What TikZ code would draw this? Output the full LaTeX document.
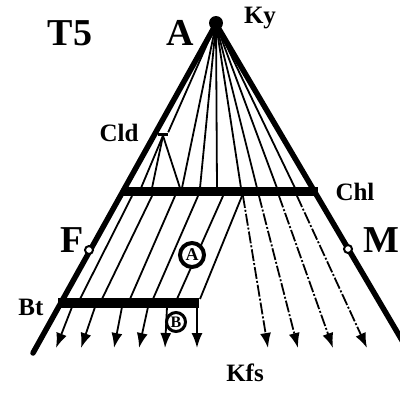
\documentclass[tikz,border=0pt]{standalone}
\usepackage{fontspec}
\setmainfont{Liberation Serif}
\usetikzlibrary{arrows.meta}
\begin{document}
\begin{tikzpicture}[x=1pt,y=-1pt,
 big/.style={font=\fontsize{38}{38}\selectfont\bfseries, inner sep=0},
 small/.style={font=\fontsize{25}{25}\selectfont\bfseries, inner sep=0},
 edgeline/.style={line width=5.5pt, line cap=round},
 bar/.style={line width=9pt},
 ray/.style={line width=1.8pt},
 dray/.style={ray, dash pattern=on 12pt off 2pt on 2pt off 2pt},
 arr/.style={-{Latex[length=15pt,width=11pt]}},
]
\clip (0,0) rectangle (400,392);
\fill[white] (0,0) rectangle (400,392);

\coordinate (apex) at (216,24);
\coordinate (Lend) at (33,353);
\coordinate (Rend) at (413,359);

% rays from apex to the Chl bar
\foreach \x [count=\i] in {182,200,217,241,257,277,295} {
  \coordinate (r\i) at (\x,188);
  \draw[ray] (apex) -- (r\i);
}
% Cld
\node[fill, minimum width=10pt, minimum height=3pt, inner sep=0] (cld) at (163,134) {};
\draw[ray] (apex) -- (cld.north east);
\foreach \x [count=\i] in {141,152,180} {
  \coordinate (t\i) at (\x,188);
  \draw[ray] (cld.south) -- (t\i);
}

% right continuations below the bar
\foreach \a/\b [count=\i] in {243/268,259/298,279/333,297/367} {
  \coordinate (rs\i) at (\a,196);
  \coordinate (re\i) at (\b,348);
  \draw[dray, arr] (rs\i) -- (re\i);
}

% left refracted lines between the bars
\foreach \a/\b [count=\i] in {132/80,152/102,175/130,198/153,223/177,242/200} {
  \coordinate (ls\i) at (\a,196);
  \coordinate (le\i) at (\b,299);
  \draw[ray] (ls\i) -- (le\i);
}

% arrows below Bt
\foreach \a/\b [count=\i] in {72/56,95/81,122/114,148/139,167/165,197/197} {
  \coordinate (bs\i) at (\a,307);
  \coordinate (be\i) at (\b,348);
  \draw[ray, arr] (bs\i) -- (be\i);
}

% bars
\coordinate (chlL) at (122,191.5);
\coordinate (chlR) at (318,191.5);
\draw[bar] (chlL) -- (chlR);
\coordinate (btL) at (58,303);
\coordinate (btR) at (199,303);
\draw[line width=10pt] (btL) -- (btR);

% edges
\draw[edgeline] (apex) -- (Lend);
\draw[edgeline] (apex) -- (Rend);

% points
\node[circle, fill, minimum size=14pt, inner sep=0] (Adot) at (216,23) {};
\node[circle, draw, fill=white, line width=2pt, minimum size=8pt, inner sep=0] (Fc) at (89,250) {};
\node[circle, draw, fill=white, line width=2pt, minimum size=8pt, inner sep=0] (Mc) at (348,249) {};

% circled letters
\node[circle, draw, line width=4pt, fill=white, minimum size=24pt, inner sep=0,
      font=\fontsize{18}{18}\selectfont\bfseries] (Acirc) at (192,255) {A};
\node[circle, draw, line width=3pt, fill=white, minimum size=19pt, inner sep=0,
      font=\fontsize{16}{16}\selectfont\bfseries] (Bcirc) at (176,322) {B};

% labels
\node[big] (T5) at (70,33) {T5};
\node[big] (Alab) at (180,33) {A};
\node[small] (Ky) at (260,18) {Ky};
\node[small] (Cldlab) at (119,133) {Cld};
\node[small] (Chl) at (355,192) {Chl};
\node[big] (F) at (72,240) {F};
\node[big] (M) at (381,240) {M};
\node[small] (Bt) at (31,307) {Bt};
\node[small] (Kfs) at (245,373) {Kfs};
\end{tikzpicture}
\end{document}
